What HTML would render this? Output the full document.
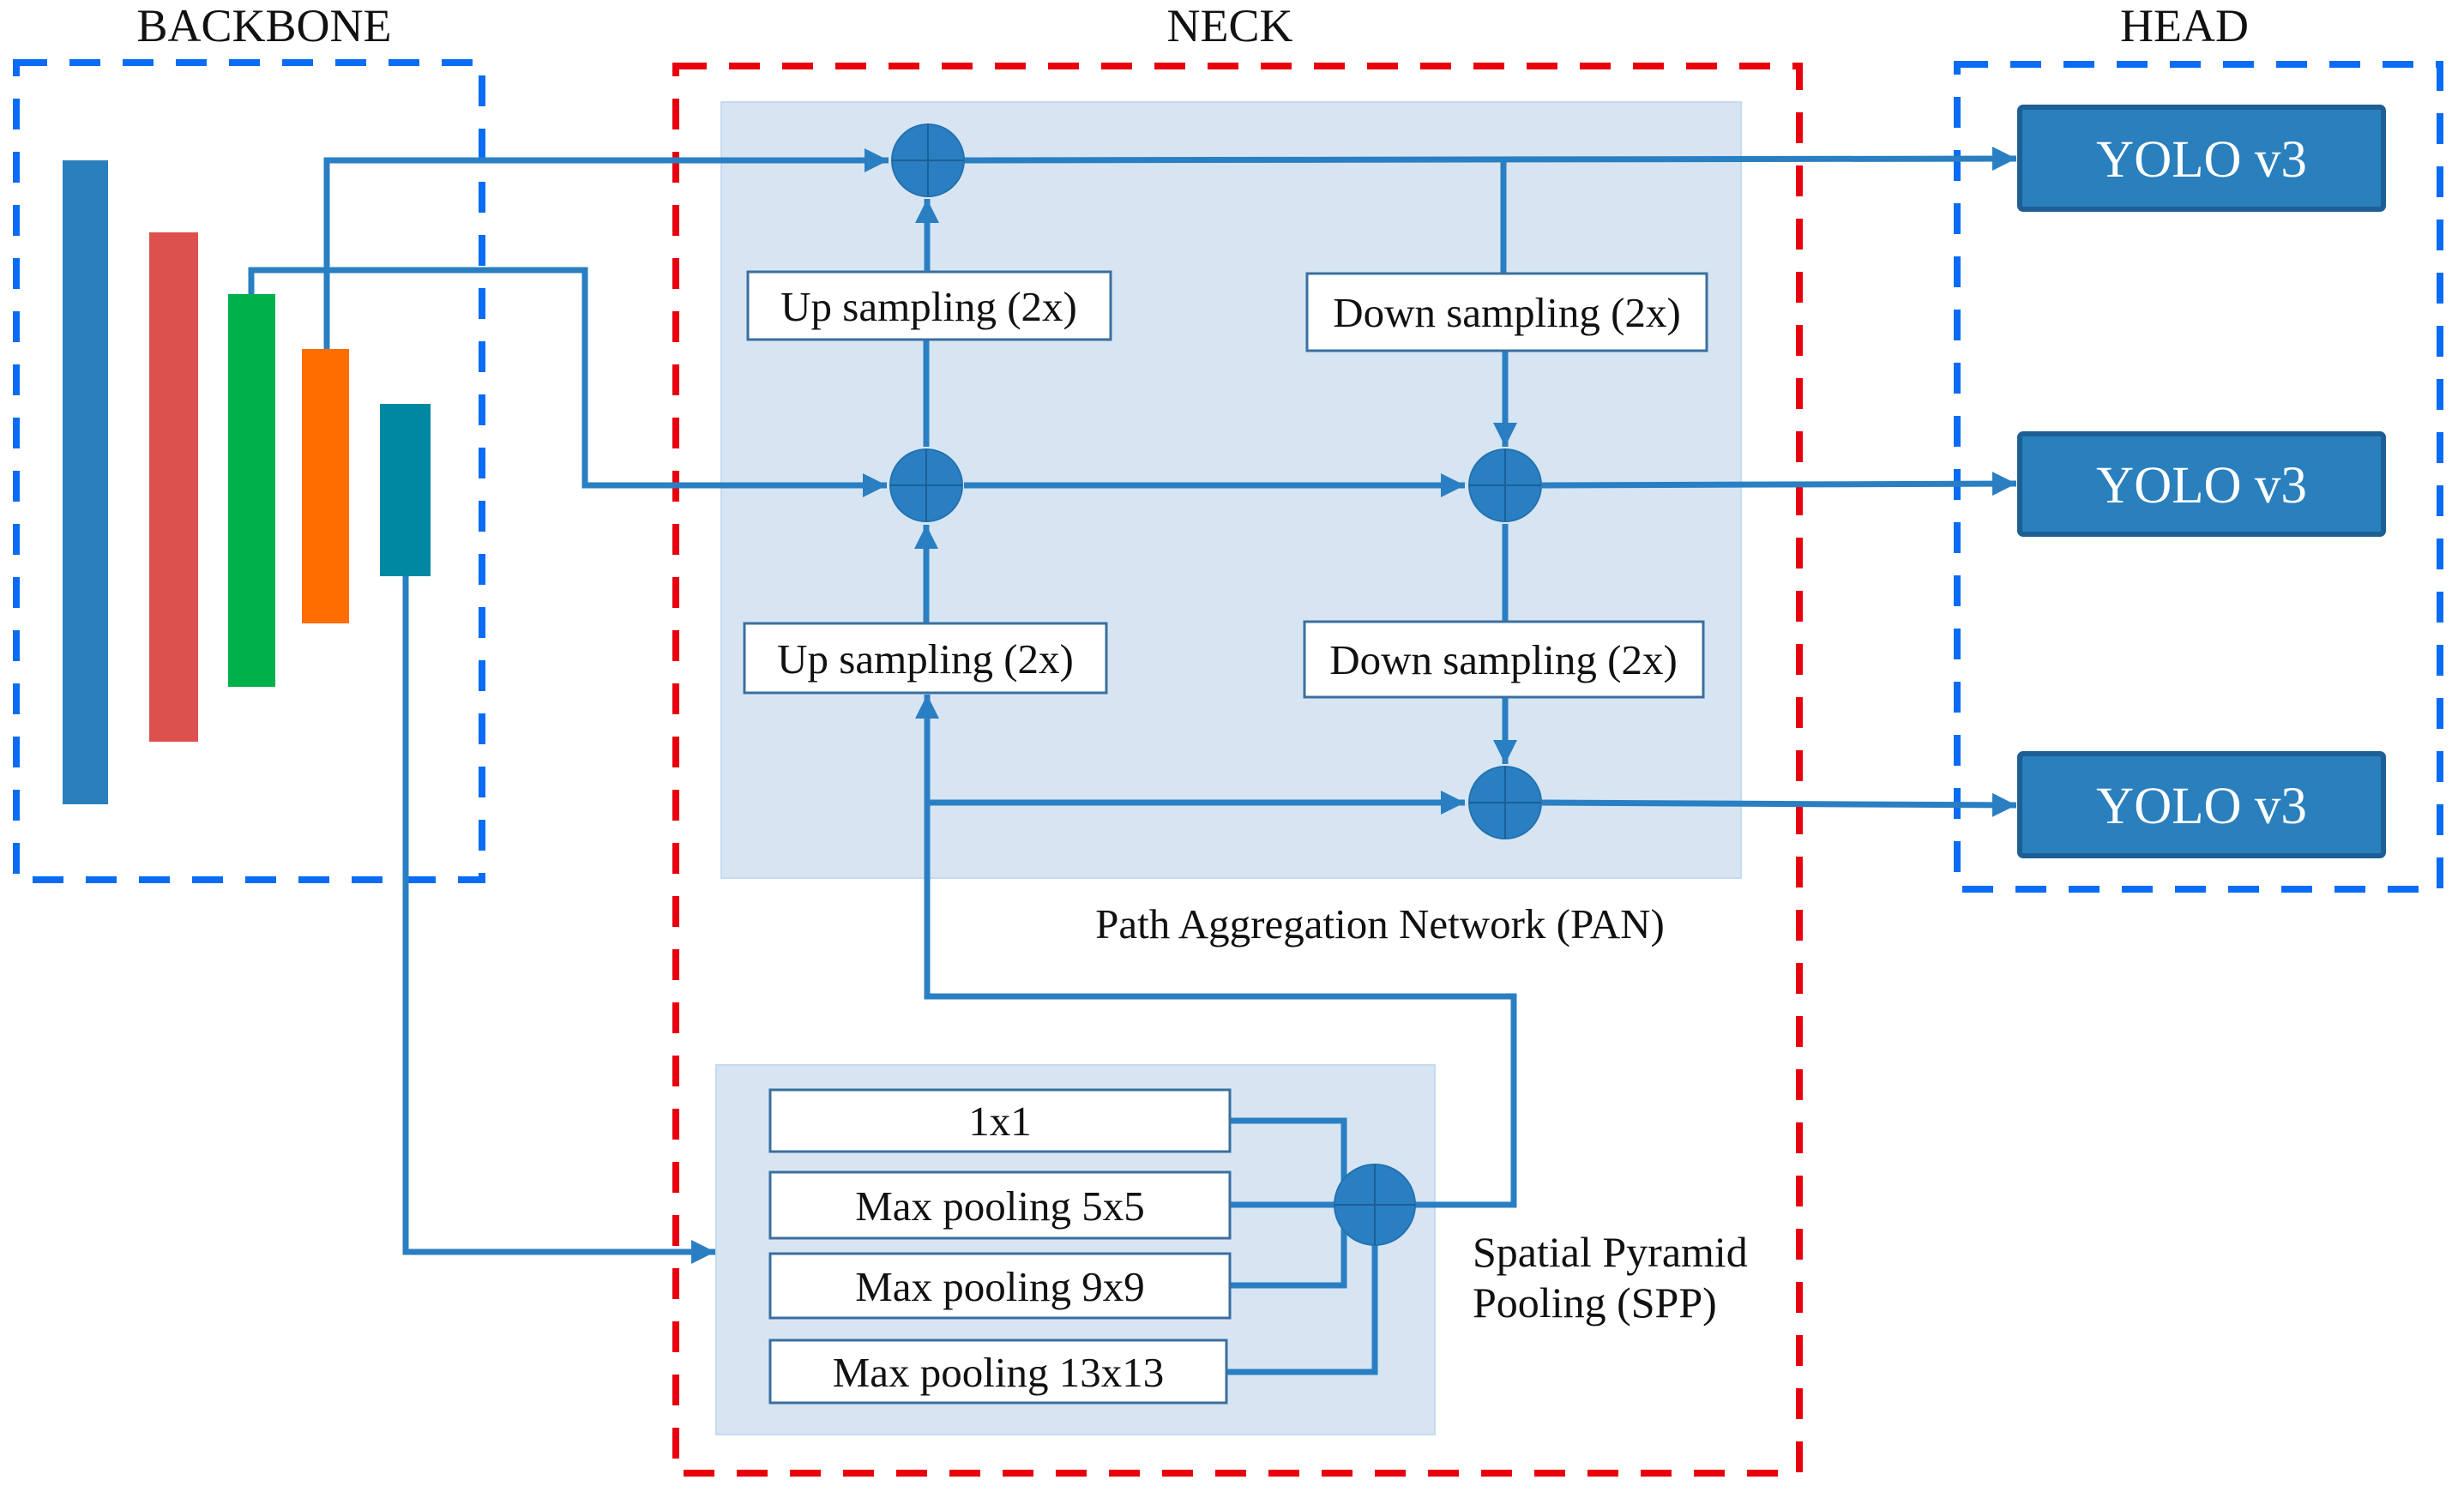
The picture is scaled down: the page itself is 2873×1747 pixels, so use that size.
<!DOCTYPE html>
<html><head><meta charset="utf-8"><style>
html,body{margin:0;padding:0;background:#fff;}
svg{display:block;}
text{font-family:"Liberation Serif",serif;fill:#111;}
</style></head><body>
<svg width="2873" height="1747" viewBox="0 0 2873 1747" xmlns="http://www.w3.org/2000/svg">
<defs>
<marker id="a" viewBox="0 0 10 10" refX="10" refY="5" markerWidth="4" markerHeight="4" orient="auto" markerUnits="strokeWidth">
<path d="M0,0 L10,5 L0,10 z" fill="#2a7fc2"/></marker>
</defs>
<text x="308" y="48" font-size="54" text-anchor="middle">BACKBONE</text>
<text x="1434" y="48" font-size="54" text-anchor="middle">NECK</text>
<text x="2547" y="48" font-size="54" text-anchor="middle">HEAD</text>

<rect x="841" y="119" width="1189" height="905" fill="#d7e5f3" stroke="#c5daf0" stroke-width="2"/>
<rect x="835" y="1242" width="838" height="431" fill="#d7e5f3" stroke="#c5daf0" stroke-width="2"/>

<rect x="19" y="73" width="543" height="953" fill="none" stroke="#0a6cf5" stroke-width="8" stroke-dasharray="36,26"/>
<rect x="788" y="77" width="1310" height="1641" fill="none" stroke="#e8000c" stroke-width="8" stroke-dasharray="36,26"/>
<rect x="2282" y="75" width="563" height="962" fill="none" stroke="#0a6cf5" stroke-width="8" stroke-dasharray="36,26"/>

<rect x="73" y="187" width="53" height="751" fill="#2a80bd"/>
<rect x="174" y="271" width="57" height="594" fill="#dc514e"/>
<rect x="266" y="343" width="55" height="458" fill="#00b04a"/>
<rect x="352" y="407" width="55" height="320" fill="#ff6d00"/>
<rect x="443" y="471" width="59" height="201" fill="#0088a2"/>

<g fill="none" stroke="#2a7fc2" stroke-width="7">
<polyline points="381,407 381,187 1036,187" marker-end="url(#a)"/>
<polyline points="293,343 293,315 682,315 682,566 1034,566" marker-end="url(#a)"/>
<polyline points="473,672 473,1460 834,1460" marker-end="url(#a)"/>
<line x1="1123" y1="187" x2="2351" y2="185" marker-end="url(#a)"/>
<line x1="1081" y1="317" x2="1081" y2="232" marker-end="url(#a)"/>
<line x1="1080" y1="521" x2="1080" y2="396"/>
<line x1="1080" y1="727" x2="1080" y2="612" marker-end="url(#a)"/>
<line x1="1124" y1="566" x2="1708" y2="566" marker-end="url(#a)"/>
<line x1="1753" y1="187" x2="1753" y2="319"/>
<line x1="1755" y1="409" x2="1755" y2="521" marker-end="url(#a)"/>
<line x1="1755" y1="611" x2="1755" y2="725"/>
<line x1="1755" y1="813" x2="1755" y2="891" marker-end="url(#a)"/>
<line x1="1798" y1="566" x2="2351" y2="564" marker-end="url(#a)"/>
<line x1="1798" y1="936" x2="2351" y2="939" marker-end="url(#a)"/>
<line x1="1081" y1="936" x2="1708" y2="936" marker-end="url(#a)"/>
<polyline points="1601,1405 1765,1405 1765,1162 1081,1162 1081,810" marker-end="url(#a)"/>
<polyline points="1434,1307 1567,1307 1567,1499 1434,1499"/>
<line x1="1434" y1="1405" x2="1560" y2="1405"/>
<polyline points="1430,1600 1603,1600 1603,1450"/>
</g>

<g fill="#2a7fc2" stroke="#2372b0" stroke-width="2">
<circle cx="1082" cy="187" r="42"/>
<circle cx="1080" cy="566" r="42"/>
<circle cx="1755" cy="566" r="42"/>
<circle cx="1755" cy="936" r="42"/>
<circle cx="1603" cy="1405" r="47"/>
</g>
<g stroke="#1d5f94" stroke-width="2">
<line x1="1040" y1="187" x2="1124" y2="187"/><line x1="1082" y1="145" x2="1082" y2="229"/>
<line x1="1038" y1="566" x2="1122" y2="566"/><line x1="1080" y1="524" x2="1080" y2="608"/>
<line x1="1713" y1="566" x2="1797" y2="566"/><line x1="1755" y1="524" x2="1755" y2="608"/>
<line x1="1713" y1="936" x2="1797" y2="936"/><line x1="1755" y1="894" x2="1755" y2="978"/>
<line x1="1556" y1="1405" x2="1650" y2="1405"/><line x1="1603" y1="1358" x2="1603" y2="1452"/>
</g>

<g fill="#fff" stroke="#3a6f9f" stroke-width="3">
<rect x="872" y="317" width="423" height="79"/>
<rect x="868" y="727" width="422" height="81"/>
<rect x="1524" y="319" width="466" height="90"/>
<rect x="1521" y="725" width="465" height="88"/>
<rect x="898" y="1271" width="536" height="72"/>
<rect x="898" y="1367" width="536" height="77"/>
<rect x="898" y="1462" width="536" height="75"/>
<rect x="898" y="1563" width="532" height="73"/>
</g>
<g font-size="49" text-anchor="middle">
<text x="1083" y="374">Up sampling (2x)</text>
<text x="1079" y="785">Up sampling (2x)</text>
<text x="1757" y="381">Down sampling (2x)</text>
<text x="1753" y="786">Down sampling (2x)</text>
<text x="1609" y="1094">Path Aggregation Network (PAN)</text>
<text x="1166" y="1324">1x1</text>
<text x="1166" y="1423">Max pooling 5x5</text>
<text x="1166" y="1517">Max pooling 9x9</text>
<text x="1164" y="1617">Max pooling 13x13</text>
</g>
<text x="1717" y="1477" font-size="50">Spatial Pyramid</text>
<text x="1717" y="1536" font-size="50">Pooling (SPP)</text>

<g fill="#2a7fbd" stroke="#1d5f94" stroke-width="6">
<rect x="2355" y="125" width="424" height="119" rx="4"/>
<rect x="2355" y="506" width="424" height="117" rx="4"/>
<rect x="2355" y="879" width="424" height="119" rx="4"/>
</g>
<g font-size="61" text-anchor="middle">
<text x="2567" y="206" style="fill:#fff">YOLO v3</text>
<text x="2567" y="586" style="fill:#fff">YOLO v3</text>
<text x="2567" y="960" style="fill:#fff">YOLO v3</text>
</g>
</svg>
</body></html>
